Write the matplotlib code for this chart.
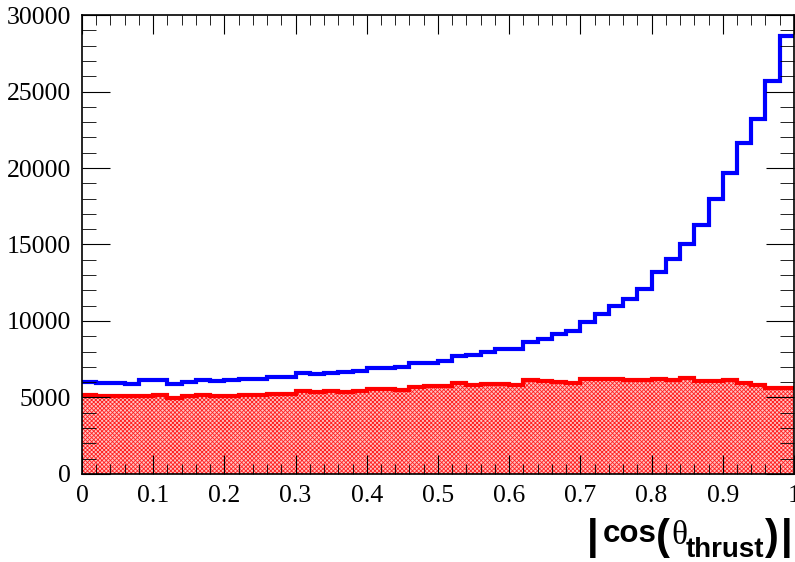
import numpy as np
import matplotlib.pyplot as plt
from matplotlib.ticker import MultipleLocator

plt.rcParams['font.family'] = 'Liberation Serif'
plt.rcParams['hatch.linewidth'] = 0.6

# 50 bins of |cos(theta_thrust)| from 0 to 1
bin_edges = np.linspace(0.0, 1.0, 51)

blue_counts = [6033, 5927, 5948, 5902, 6124, 6124, 5902, 5990, 6165, 6078,
               6124, 6209, 6209, 6318, 6318, 6580, 6536, 6601, 6645, 6754,
               6906, 6950, 7015, 7233, 7233, 7407, 7712, 7778, 7996, 8148,
               8170, 8620, 8835, 9150, 9320, 9935, 10440, 10980, 11440, 12070,
               13180, 14070, 15030, 16250, 17950, 19650, 21610, 23200, 25690, 28630]

red_counts = [5163, 5076, 5098, 5098, 5120, 5163, 4989, 5076, 5163, 5098,
              5120, 5141, 5141, 5229, 5229, 5446, 5359, 5403, 5381, 5425,
              5577, 5555, 5490, 5686, 5730, 5752, 5926, 5817, 5880, 5860,
              5817, 6122, 6080, 5990, 5950, 6209, 6209, 6209, 6122, 6144,
              6209, 6165, 6296, 6056, 6100, 6165, 5948, 5817, 5620, 5620]

fig = plt.figure(figsize=(7.95, 5.62), dpi=100)
ax = fig.add_axes([0.1031, 0.1566, 0.8956, 0.8167])

# red histogram: hatched fill plus outline
ax.stairs(red_counts, bin_edges, fill=True, facecolor='#ffc4c4',
          edgecolor='#ff2020', hatch='xxxxxxxx', linewidth=0)
ax.stairs(red_counts, bin_edges, baseline=None, color='red', linewidth=3)
ax.stairs(blue_counts, bin_edges, baseline=None, color='blue', linewidth=3)

ax.set_xlim(0, 1)
ax.set_ylim(0, 30000)
ax.xaxis.set_minor_locator(MultipleLocator(0.02))
ax.yaxis.set_major_locator(MultipleLocator(5000))
ax.yaxis.set_minor_locator(MultipleLocator(1000))
ax.set_xticks(np.arange(0, 1.01, 0.1))
ax.set_xticklabels(['0', '0.1', '0.2', '0.3', '0.4', '0.5', '0.6', '0.7', '0.8', '0.9', '1'])

ax.tick_params(axis='both', which='both', direction='in', top=True, right=True,
               labelsize=18.5)
ax.tick_params(axis='x', which='major', length=14, pad=8)
ax.tick_params(axis='x', which='minor', length=7)
ax.tick_params(axis='y', which='major', length=20, pad=8)
ax.tick_params(axis='y', which='minor', length=10)
for s in ax.spines.values():
    s.set_linewidth(1.2)

# x title |cos(theta_thrust)| built from pieces, ROOT TLatex style
H = 562
bold = dict(family='Liberation Sans', weight='bold', va='baseline', ha='left',
            transform=None)
fig.text(587, H - 549, '|', fontsize=30, **bold)
fig.text(603, H - 542, 'cos', fontsize=22.5, **bold)
fig.text(656, H - 549, '(', fontsize=30, **bold)
fig.text(671, H - 544, '\u03b8', fontsize=24, family='Liberation Serif',
         va='baseline', ha='left', transform=None)
fig.text(686, H - 557, 'thrust', fontsize=20, **bold)
fig.text(765, H - 549, ')', fontsize=30, **bold)
fig.text(781, H - 549, '|', fontsize=30, **bold)

fig.savefig('out.png', dpi=100)
